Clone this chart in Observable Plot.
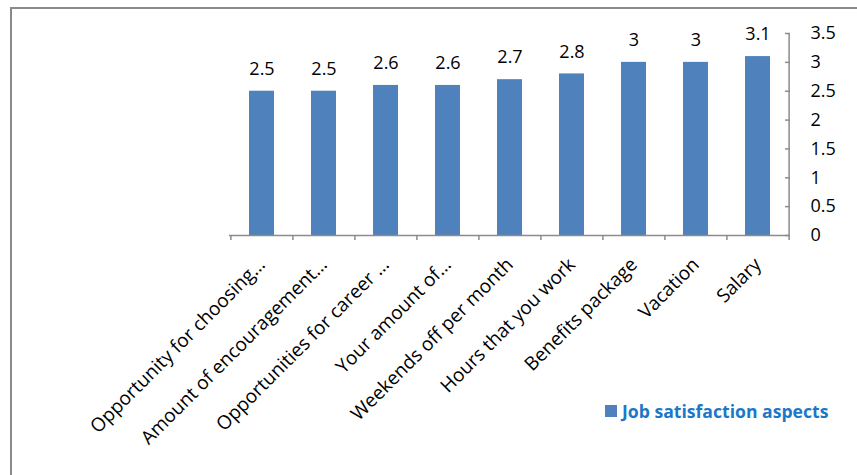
<!DOCTYPE html>
<html><head><meta charset="utf-8">
<script src="https://cdn.jsdelivr.net/npm/d3@7"></script>
<script src="https://cdn.jsdelivr.net/npm/@observablehq/plot@0.6"></script>
<style>
body{margin:0;background:#fff;font-family:"Open Sans",sans-serif;}
#wrap{position:relative;width:857px;height:475px;overflow:hidden;}
#border{position:absolute;left:10px;top:7px;width:900px;height:520px;border:2px solid #8a8a8a;box-sizing:border-box;}
#chart{position:absolute;left:0;top:0;}
#legend{position:absolute;left:605px;top:399px;display:flex;align-items:center;gap:5px;font-weight:bold;font-size:17.6px;color:#1b78c8;white-space:nowrap;}
#legend .sw{width:12px;height:12px;background:#4F81BD;display:inline-block;}
</style>
</head><body>
<div id="wrap"><div id="border"></div><div id="chart"></div>
<div id="legend"><span class="sw"></span><span>Job satisfaction aspects</span></div></div>
<script>
const categories = ["Opportunity for choosing…","Amount of encouragement…","Opportunities for career …","Your amount of…","Weekends off per month","Hours that you work","Benefits package","Vacation","Salary"];
const values = [2.5,2.5,2.6,2.6,2.7,2.8,3,3,3.1];
const yTicks = [0,0.5,1,1.5,2,2.5,3,3.5];
const data = categories.map((c,i)=>({cat:c,value:values[i]}));
const W=857,H=475,mL=229,mR=68,mT=33,mB=240;
const step=(W-mL-mR)/categories.length;
const gray="#8c8c8c";
const chart = Plot.plot({
  width:W,height:H,marginLeft:mL,marginRight:mR,marginTop:mT,marginBottom:mB,
  style:{fontFamily:"'Open Sans', sans-serif",fontSize:"17px",color:"#000",background:"transparent",overflow:"visible"},
  x:{domain:categories,paddingInner:0.6,paddingOuter:0.3,axis:null},
  y:{domain:[0,3.5],axis:null},
  marks:[
    Plot.barY(data,{x:"cat",y:"value",fill:"#4F81BD"}),
    Plot.ruleY([0],{stroke:gray,strokeWidth:1.5}),
    Plot.ruleX([categories[categories.length-1]],{y1:0,y2:3.5,dx:step/2,stroke:gray,strokeWidth:1.5}),
    Plot.axisX({tickSize:5,tickFormat:()=>"",dx:-step/2,stroke:gray,strokeWidth:1.5,label:null}),
    Plot.axisX({ticks:[categories[categories.length-1]],tickSize:5,tickFormat:()=>"",dx:step/2,stroke:gray,strokeWidth:1.5,label:null}),
    Plot.axisX({tickSize:0,tickRotate:-45,tickPadding:26,fontSize:19,fill:"#000",label:null}),
    Plot.axisY({anchor:"right",ticks:yTicks,tickSize:5,dx:-5,tickFormat:()=>"",stroke:gray,strokeWidth:1.5,label:null}),
    Plot.axisY({anchor:"right",ticks:yTicks,tickSize:0,tickPadding:21,fontSize:18,fill:"#000",tickFormat:d=>String(d),label:null}),
    Plot.text(data,{x:"cat",y:"value",text:d=>String(d.value),dy:-22,fontSize:18,fill:"#000"})
  ]
});
document.getElementById("chart").appendChild(chart);
</script>
</body></html>
